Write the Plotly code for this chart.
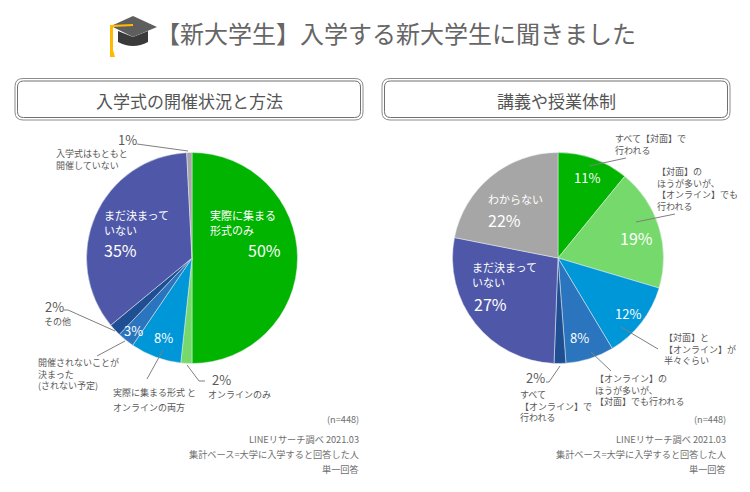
import plotly.graph_objects as go

# ----------------------------------- Data -----------------------------------

title_text = '【新大学生】入学する新大学生に聞きました'
left_header = '入学式の開催状況と方法'
right_header = '講義や授業体制'

left_labels = ['実際に集まる形式のみ', 'オンラインのみ', '実際に集まる形式と オンラインの両方',
               '開催されないことが決まった', 'その他', 'まだ決まっていない', '入学式はもともと開催していない']
left_values = [50.0, 1.7, 7.8, 2.6, 1.9, 35.2, 0.8]
left_colors = ['#00B400', '#76D96B', '#0097D8', '#2A75BE', '#1F4E93', '#4F58A8', '#A6A6A6']

right_labels = ['すべて【対面】で行われる', '【対面】のほうが多いが、【オンライン】でも行われる', '【対面】と【オンライン】が半々ぐらい',
                '【オンライン】のほうが多いが、【対面】でも行われる', 'すべて【オンライン】で行われる', 'まだ決まっていない', 'わからない']
right_values = [10.9, 18.7, 11.8, 7.4, 1.8, 27.5, 21.9]
right_colors = ['#00B400', '#76D96B', '#0097D8', '#2A75BE', '#1F4E93', '#4F58A8', '#A6A6A6']

notes = ['(n=448)', 'LINEリサーチ調べ 2021.03', '集計ベース=大学に入学すると回答した人', '単一回答']
note_y = [419, 439, 454, 469]
note_right = [360, 727]

# text, x, y, size, colour, anchor
WHITE = '#FFFFFF'
GREY = '#595959'
texts = [
    ('1%', 127, 139, 13, GREY, 'center'),
    ('入学式はもともと<br>開催していない', 55, 159, 9, GREY, 'left'),
    ('実際に集まる', 209, 215, 11, WHITE, 'left'),
    ('形式のみ', 209, 230, 11, WHITE, 'left'),
    ('50%', 264, 250, 16, WHITE, 'center'),
    ('まだ決まって', 103, 215, 11, WHITE, 'left'),
    ('いない', 103, 230, 11, WHITE, 'left'),
    ('35%', 103, 250, 16, WHITE, 'left'),
    ('3%', 133, 330, 13, WHITE, 'center'),
    ('8%', 163, 337, 13, WHITE, 'center'),
    ('2%', 54, 306, 13, GREY, 'center'),
    ('その他', 43, 321, 9, GREY, 'left'),
    ('開催されないことが<br>決まった<br>(されない予定)', 37, 374, 9, GREY, 'left'),
    ('実際に集まる形式 と', 112, 392, 9, GREY, 'left'),
    ('オンラインの両方', 112, 407, 9, GREY, 'left'),
    ('2%', 211, 379, 13, GREY, 'left'),
    ('オンラインのみ', 207, 394, 9, GREY, 'left'),
    ('すべて【対面】で<br>行われる', 614, 144, 9, GREY, 'left'),
    ('11%', 587, 177, 13, WHITE, 'center'),
    ('【対面】の<br>ほうが多いが、<br>【オンライン】でも<br>行われる', 656, 189, 9, GREY, 'left'),
    ('19%', 636, 238, 16, WHITE, 'center'),
    ('わからない', 487, 199, 11, WHITE, 'left'),
    ('22%', 487, 220, 16, WHITE, 'left'),
    ('まだ決まって', 471, 267, 11, WHITE, 'left'),
    ('いない', 471, 282, 11, WHITE, 'left'),
    ('27%', 473, 304, 16, WHITE, 'left'),
    ('12%', 628, 313, 13, WHITE, 'center'),
    ('8%', 579, 337, 13, WHITE, 'center'),
    ('【対面】と<br>【オンライン】が<br>半々ぐらい', 663, 349, 9, GREY, 'left'),
    ('【オンライン】の<br>ほうが多いが、<br>【対面】でも行われる', 594, 390, 9, GREY, 'left'),
    ('2%', 535, 377, 13, GREY, 'center'),
    ('すべて<br>【オンライン】で<br>行われる', 519, 406, 9, GREY, 'left'),
]

leaders = [
    'M137,144 L188,151',
    'M64,310 L68,310 L115,331',
    'M97,356 L125,341',
    'M147,379 L163,350',
    'M205,381 L199,381 L187,365',
    'M626,158 L589,166',
    'M675,214 L636,222',
    'M658,349 L621,327',
    'M611,371 L591,352',
    'M546,382 L549,382 L560,366',
]

FONT = 'Noto Sans CJK JP'


def rounded_box(x0, y0, x1, y1, r):
    return (f'M{x0 + r},{y0} L{x1 - r},{y0} Q{x1},{y0} {x1},{y0 + r} L{x1},{y1 - r} Q{x1},{y1} {x1 - r},{y1} '
            f'L{x0 + r},{y1} Q{x0},{y1} {x0},{y1 - r} L{x0},{y0 + r} Q{x0},{y0} {x0 + r},{y0} Z')


def pie_trace(labels, values, colors, x0, x1):
    return go.Pie(
        labels=labels, values=values, sort=False, direction='clockwise', rotation=0,
        marker=dict(colors=colors, line=dict(color='#E8EEF0', width=0.5)),
        textinfo='none', hoverinfo='label+percent', showlegend=False,
        domain=dict(x=[x0 / 750, x1 / 750], y=[1 - 363.5 / 492, 1 - 152.5 / 492]),
    )


# ----------------------------------- Figure -----------------------------------

fig = go.Figure()
# empty trace so that the pixel-sized x/y axes exist for shapes and text
fig.add_trace(go.Scatter(x=[], y=[], showlegend=False))
fig.add_trace(pie_trace(left_labels, left_values, left_colors, 86.5, 297.5))
fig.add_trace(pie_trace(right_labels, right_values, right_colors, 452.5, 663.5))

shapes = []
for d in leaders:
    shapes.append(dict(type='path', xref='x', yref='y', path=d, line=dict(color='#7F7F7F', width=1), layer='above'))

for x0 in [15, 382]:
    shapes.append(dict(type='path', xref='x', yref='y', path=rounded_box(x0, 78.5, x0 + 348, 120, 8),
                       line=dict(color='#8C8C8C', width=1)))
    shapes.append(dict(type='path', xref='x', yref='y', path=rounded_box(x0 + 2.5, 81, x0 + 345.5, 117.5, 6),
                       line=dict(color='#707070', width=1)))

# graduation cap icon
cap_shapes = [
    ('M118,31 L118,42 Q133,50 148,42 L148,31 L133,37 Z', '#3A3A3A'),
    ('M111,26 L133,16 L157,27 L133,37 Z', '#5E5E5E'),
    ('M110,25 L133,24 L133,26 L113,27 L113,50 L115,57 L110,57 Z', '#FFB900'),
]
for d, c in cap_shapes:
    shapes.append(dict(type='path', xref='x', yref='y', path=d, fillcolor=c, line=dict(width=0), layer='above'))

annotations = []


def add_text(text, x, y, size, color, anchor='left'):
    annotations.append(dict(text=text, x=x, y=y, xref='x', yref='y', showarrow=False, xanchor=anchor, yanchor='middle',
                            align=anchor, borderpad=0, font=dict(family=FONT, size=size, color=color)))


add_text(title_text, 396, 32, 24, '#666666', 'center')
add_text(left_header, 189, 100, 17, '#555555', 'center')
add_text(right_header, 556, 100, 17, '#555555', 'center')
for t in texts:
    add_text(*t)
for right in note_right:
    for note, y in zip(notes, note_y):
        add_text(note, right, y, 9.2, '#6E6E6E', 'right')

fig.update_layout(
    width=750, height=492,
    margin=dict(l=0, r=0, t=0, b=0),
    paper_bgcolor='white', plot_bgcolor='white',
    xaxis=dict(range=[0, 750], visible=False, domain=[0, 1]),
    yaxis=dict(range=[492, 0], visible=False, domain=[0, 1]),
    shapes=shapes, annotations=annotations,
    font=dict(family=FONT),
)

fig.write_html('out.html', config=dict(displayModeBar=False), post_script="document.body.style.margin = '0';")
